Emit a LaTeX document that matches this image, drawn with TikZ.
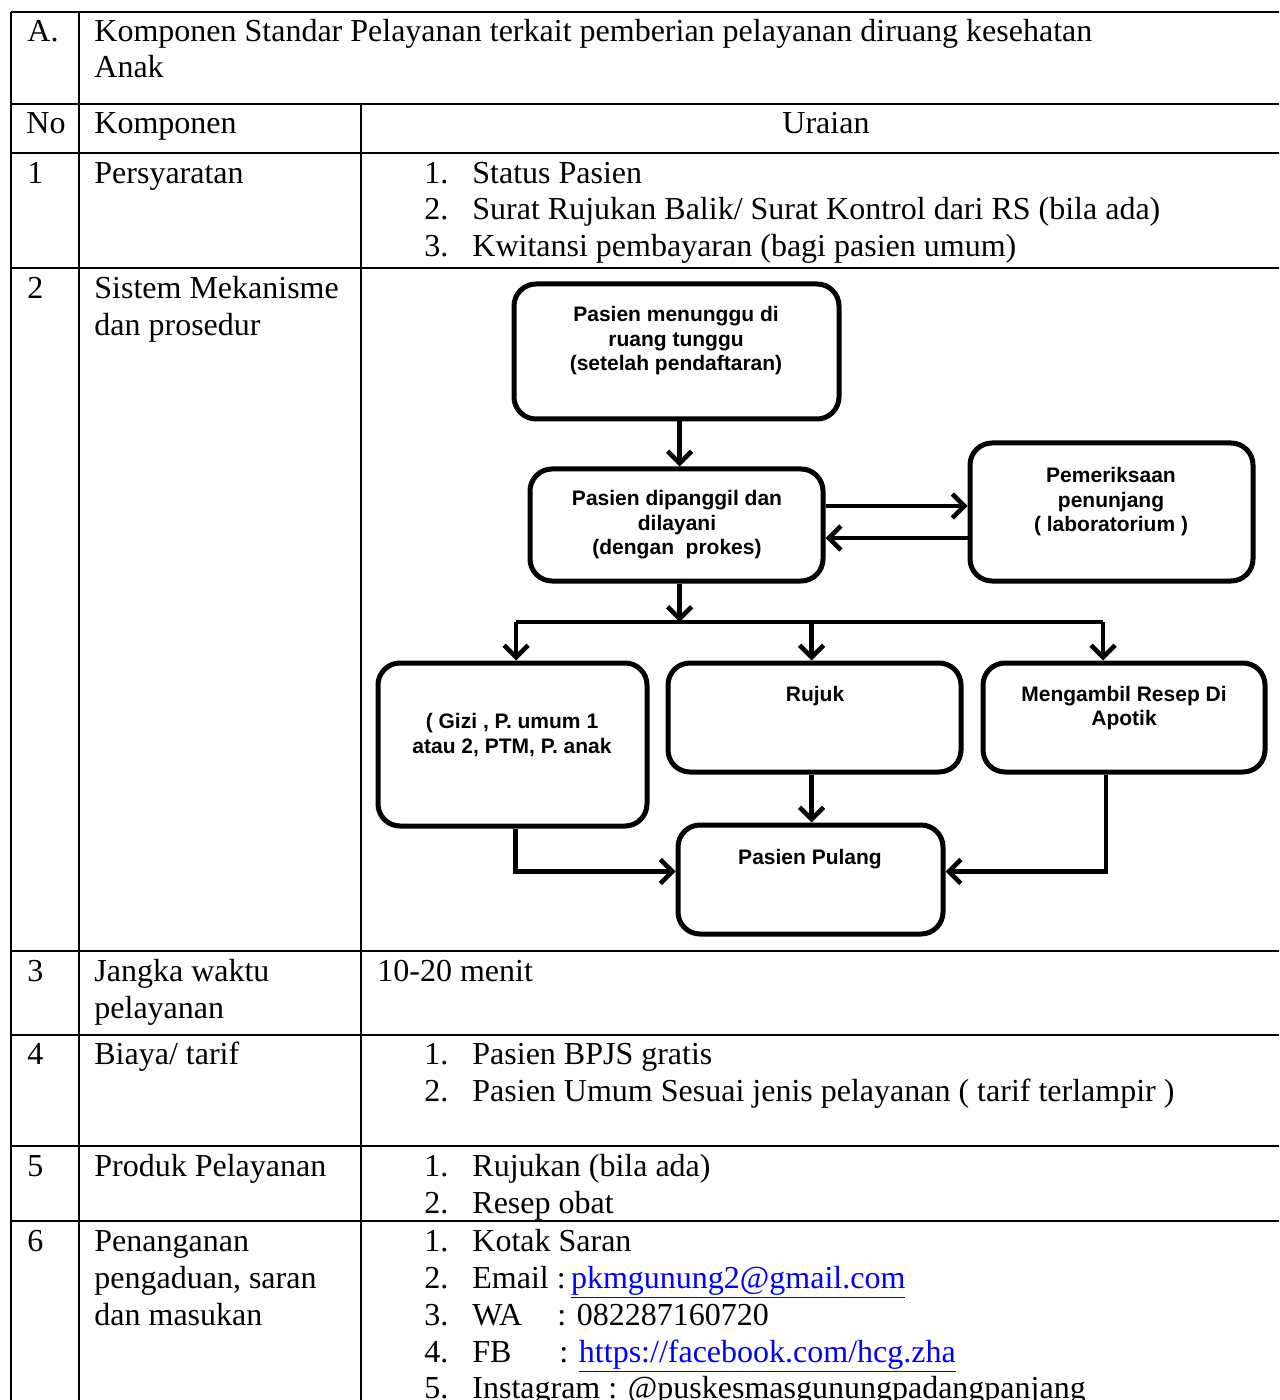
\documentclass[tikz,border=0pt]{standalone}
\usepackage{fontspec}
\setmainfont{Liberation Serif}
\newfontfamily\flowfont{Liberation Sans}
\usepackage{tikz}
\usetikzlibrary{arrows.meta, positioning}

\begin{document}
\begin{tikzpicture}[x=0.5pt, y=-0.5pt,
    grid/.style={line width=1pt},
    cell/.style={anchor=base west, inner sep=0pt, font=\fontsize{16}{18}\selectfont},
    box/.style={draw=black, line width=2.5pt, rounded corners=11pt, fill=white},
    flowtext/.style={align=center, inner sep=0pt, font=\flowfont\bfseries\fontsize{10.5}{12.25}\selectfont},
    arr/.style={line width=2.3pt, -{Straight Barb[length=6pt, width=12pt, line width=2.3pt]}},
    link/.style={text=blue}]

      \useasboundingbox (0,0) rectangle (1279,1400);
      \fill[white] (0,0) rectangle (1279,1400);

      % table rules
      \draw[grid] (11,12) -- (1279,12);
      \draw[grid] (11,104) -- (1279,104);
      \draw[grid] (11,153) -- (1279,153);
      \draw[grid] (11,268) -- (1279,268);
      \draw[grid] (11,951) -- (1279,951);
      \draw[grid] (11,1035) -- (1279,1035);
      \draw[grid] (11,1146) -- (1279,1146);
      \draw[grid] (11,1221) -- (1279,1221);
      \draw[grid] (11,12) -- (11,1400);
      \draw[grid] (79,12) -- (79,1400);
      \draw[grid] (361,104) -- (361,1400);

      % header
      \node[cell] (hA) at (27,42) {A.};
      \node[cell] (hTitle) at (94,42) {Komponen Standar Pelayanan terkait pemberian pelayanan diruang kesehatan};
      \node[cell] (hAnak) at (94,78) {Anak};
      \node[cell] (hNo) at (26,134) {No};
      \node[cell] (hKomp) at (94,134) {Komponen};
      \node[cell, anchor=base] (hUraian) at (826,134) {Uraian};

      % row 1
      \node[cell] (no1) at (27,184) {1};
      \node[cell] (komp1) at (94,184) {Persyaratan};
      \node[cell] (num1a) at (424,184) {1.};
      \node[cell] (item1a) at (472,184) {Status Pasien};
      \node[cell] (num1b) at (424,220) {2.};
      \node[cell] (item1b) at (472,220) {Surat Rujukan Balik/ Surat Kontrol dari RS (bila ada)};
      \node[cell] (num1c) at (424,257) {3.};
      \node[cell] (item1c) at (472,257) {Kwitansi pembayaran (bagi pasien umum)};

      % row 2
      \node[cell] (no2) at (27,299) {2};
      \node[cell] (komp2a) at (94,299) {Sistem Mekanisme};
      \node[cell] (komp2b) at (94,336) {dan prosedur};

      % flowchart
      \node[box, minimum width=162.5pt, minimum height=67.5pt] (wait) at (676.5,351.5) {};
      \node[box, minimum width=146.5pt, minimum height=56pt] (call) at (676.5,525) {};
      \node[box, minimum width=141.5pt, minimum height=69pt] (lab) at (1111.5,512) {};
      \node[box, minimum width=134.5pt, minimum height=81.5pt] (poli) at (512.5,744.5) {};
      \node[box, minimum width=146.5pt, minimum height=54.5pt] (rujuk) at (814.5,717.5) {};
      \node[box, minimum width=141pt, minimum height=54.5pt] (apotik) at (1124,717.5) {};
      \node[box, minimum width=132.5pt, minimum height=54.5pt] (pulang) at (810.5,879.5) {};

      \node[flowtext] (waittxt) at (676,341) {Pasien menunggu di\\ruang tunggu\\(setelah pendaftaran)};
      \node[flowtext] (calltxt) at (677,525) {Pasien dipanggil dan\\dilayani\\(dengan\ \ prokes)};
      \node[flowtext] (labtxt) at (1111,502) {Pemeriksaan\\penunjang\\( laboratorium )};
      \node[flowtext] (politxt) at (512,735) {( Gizi , P. umum 1\\atau 2, PTM, P. anak};
      \node[flowtext] (rujuktxt) at (815,696) {Rujuk};
      \node[flowtext] (apotiktxt) at (1124,708) {Mengambil Resep Di\\Apotik};
      \node[flowtext] (pulangtxt) at (810,859) {Pasien Pulang};

      \coordinate (busL) at (516,622);
      \coordinate (busR) at (1103,622);

      \draw[arr] ([xshift=1.5pt]wait.south) -- ([xshift=1.5pt]call.north);
      \draw[arr] ([yshift=9.5pt]call.east) -- ([yshift=3pt]lab.west);
      \draw[arr] ([yshift=-13pt]lab.west) -- ([yshift=-6.5pt]call.east);
      \draw[arr] ([xshift=1.5pt]call.south) -- ([xshift=1.5pt]call.south |- busL);
      \draw[line width=2.3pt] (busL) -- (busR);
      \draw[arr] (busL) -- (busL |- poli.north);
      \draw[arr] ([xshift=-1.5pt]rujuk.north |- busL) -- ([xshift=-1.5pt]rujuk.north);
      \draw[arr] (busR) -- (busR |- apotik.north);
      \draw[arr] ([xshift=-1.5pt]rujuk.south) -- ([xshift=-1.5pt]rujuk.south |- pulang.north);
      \draw[arr] ([xshift=1.5pt]poli.south) |- ([yshift=4pt]pulang.west);
      \draw[arr] ([xshift=-9pt]apotik.south) |- ([yshift=4pt]pulang.east);

      % row 3
      \node[cell] (no3) at (27,981) {3};
      \node[cell] (komp3a) at (94,981) {Jangka waktu};
      \node[cell] (komp3b) at (94,1018) {pelayanan};
      \node[cell] (item3) at (377,981) {10-20 menit};

      % row 4
      \node[cell] (no4) at (27,1064) {4};
      \node[cell] (komp4) at (94,1064) {Biaya/ tarif};
      \node[cell] (num4a) at (424,1064) {1.};
      \node[cell] (item4a) at (472,1064) {Pasien BPJS gratis};
      \node[cell] (num4b) at (424,1101) {2.};
      \node[cell] (item4b) at (472,1101) {Pasien Umum Sesuai jenis pelayanan ( tarif terlampir )};

      % row 5
      \node[cell] (no5) at (27,1176) {5};
      \node[cell] (komp5) at (94,1176) {Produk Pelayanan};
      \node[cell] (num5a) at (424,1176) {1.};
      \node[cell] (item5a) at (472,1176) {Rujukan (bila ada)};
      \node[cell] (num5b) at (424,1213) {2.};
      \node[cell] (item5b) at (472,1213) {Resep obat};

      % row 6
      \node[cell] (no6) at (27,1251) {6};
      \node[cell] (komp6a) at (94,1251) {Penanganan};
      \node[cell] (komp6b) at (94,1288) {pengaduan, saran};
      \node[cell] (komp6c) at (94,1325) {dan masukan};
      \node[cell] (num6a) at (424,1251) {1.};
      \node[cell] (item6a) at (472,1251) {Kotak Saran};
      \node[cell] (num6b) at (424,1288) {2.};
      \node[cell] (item6b) at (472,1288) {Email :\,\textcolor{blue}{\underline{pkmgunung2@gmail.com}}};
      \node[cell] (num6c) at (424,1325) {3.};
      \node[cell] (item6c) at (472,1325) {WA};
      \node[cell] (wa) at (557,1325) {: 082287160720};
      \node[cell] (num6d) at (424,1362) {4.};
      \node[cell] (item6d) at (472,1362) {FB};
      \node[cell] (fb) at (559,1362) {: \textcolor{blue}{\underline{https://facebook.com/hcg.zha}}};
      \node[cell] (num6e) at (424,1398) {5.};
      \node[cell] (item6e) at (472,1398) {Instagram : @puskesmasgunungpadangpanjang};
    \end{tikzpicture}
\end{document}
